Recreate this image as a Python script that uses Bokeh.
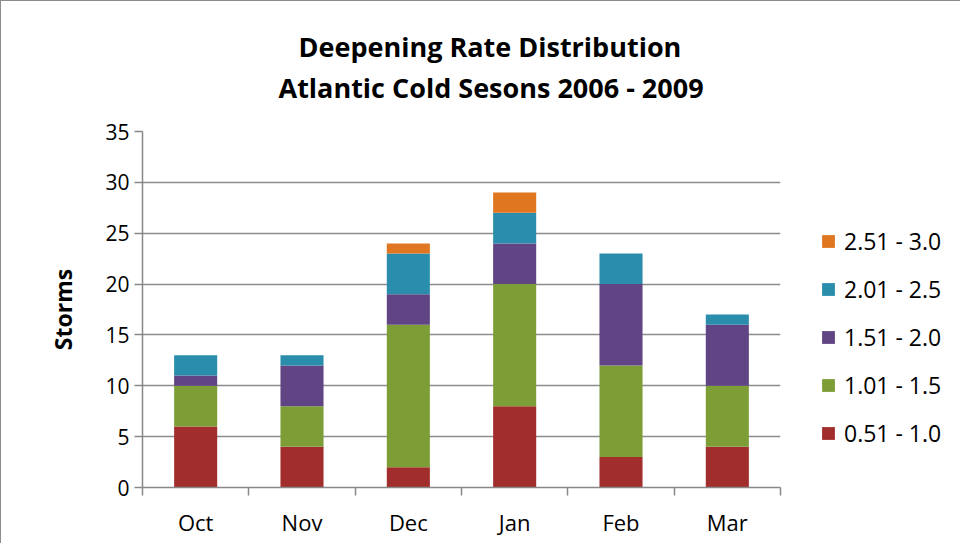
from bokeh.plotting import figure
from bokeh.models import (ColumnDataSource, FixedTicker, Legend, LegendItem, Title,
                          Range1d, LinearAxis)
from bokeh.embed import file_html
from bokeh.resources import INLINE

months = ["Oct", "Nov", "Dec", "Jan", "Feb", "Mar"]
bins = ["0.51 - 1.0", "1.01 - 1.5", "1.51 - 2.0", "2.01 - 2.5", "2.51 - 3.0"]
r051_10 = [6, 4, 2, 8, 3, 4]
r101_15 = [4, 4, 14, 12, 9, 6]
r151_20 = [1, 4, 3, 4, 8, 6]
r201_25 = [2, 1, 4, 3, 3, 1]
r251_30 = [0, 0, 1, 2, 0, 0]
y_ticks = [0, 5, 10, 15, 20, 25, 30, 35]
colors = ["#A22D2D", "#7D9E37", "#614483", "#2A8DAB", "#E07620"]
title_lines = ["Deepening Rate Distribution", "Atlantic Cold Sesons 2006 - 2009"]

FONT = "Open Sans"
x_pos = [i + 0.5 for i in range(len(months))]
src = ColumnDataSource(dict(x=x_pos, **{b: v for b, v in zip(
    bins, [r051_10, r101_15, r151_20, r201_25, r251_30])}))

p = figure(output_backend="svg", toolbar_location=None,
           frame_width=638, frame_height=356,
           min_border_left=141, min_border_right=165,
           min_border_top=130, min_border_bottom=56,
           x_range=Range1d(0, len(months)), y_range=Range1d(0, 35))
p.xaxis.visible = False
p.outline_line_color = None
p.background_fill_color = "white"
p.border_fill_color = "white"

rs = p.vbar_stack(bins, x="x", width=0.405, source=src, color=colors,
                  line_color=None)

# axes
p.yaxis.ticker = FixedTicker(ticks=y_ticks)
p.yaxis.axis_line_color = "#888888"
p.yaxis.axis_line_width = 1.5
p.yaxis.major_tick_line_color = "#888888"
p.yaxis.major_tick_line_width = 1.5
p.yaxis.major_tick_out = 8
p.yaxis.major_tick_in = 0
p.yaxis.minor_tick_line_color = None
p.yaxis.major_label_text_font = FONT
p.yaxis.major_label_text_font_size = "21px"
p.yaxis.major_label_text_color = "#000000"
p.yaxis.major_label_standoff = 5
p.yaxis.axis_label = "Storms"
p.yaxis.axis_label_text_font = FONT
p.yaxis.axis_label_text_font_style = "bold"
p.yaxis.axis_label_text_font_size = "23px"
p.yaxis.axis_label_text_color = "#000000"
p.yaxis.axis_label_standoff = 23

xa = LinearAxis(ticker=FixedTicker(ticks=x_pos, minor_ticks=list(range(len(months) + 1))),
                major_label_overrides={x: m for x, m in zip(x_pos, months)})
xa.axis_line_color = "#888888"
xa.axis_line_width = 1.5
xa.major_tick_line_color = None
xa.minor_tick_line_color = "#888888"
xa.minor_tick_line_width = 1.5
xa.minor_tick_out = 8
xa.minor_tick_in = 0
xa.major_label_text_font = FONT
xa.major_label_text_font_size = "22px"
xa.major_label_text_color = "#000000"
xa.major_label_standoff = 11
p.add_layout(xa, "below")

p.xgrid.visible = False
p.ygrid.ticker = FixedTicker(ticks=y_ticks)
p.ygrid.grid_line_color = "#8C8C8C"
p.ygrid.grid_line_width = 1.5

# legend
items = [LegendItem(label=b, renderers=[r]) for b, r in zip(bins, rs)][::-1]
leg = Legend(items=items, location=(40, 38), orientation="vertical",
             glyph_width=16, glyph_height=16, label_height=20, spacing=16,
             label_standoff=8, padding=0, margin=0, border_line_color=None,
             background_fill_alpha=0, label_text_font=FONT,
             label_text_font_size="23px", label_text_color="#000000")
p.add_layout(leg, "right")

# title: spacer next to the frame, then line 2, then p.title (line 1) outermost
spacer = Title(text=" ", text_font_size="1px", standoff=21)
p.add_layout(spacer, "above")
t2 = Title(text=title_lines[1], align="left", offset=136, text_font=FONT,
           text_font_style="bold", text_font_size="27px", text_color="#000000",
           standoff=3)
p.add_layout(t2, "above")
p.title.text = title_lines[0]
p.title.align = "left"
p.title.offset = 156
p.title.text_font = FONT
p.title.text_font_style = "bold"
p.title.text_font_size = "27px"
p.title.text_color = "#000000"
p.title.standoff = 1

p.styles = {"border-left": "1px solid #8C8C8C", "border-top": "1px solid #8C8C8C"}

open("out.html", "w").write(file_html(p, INLINE))
